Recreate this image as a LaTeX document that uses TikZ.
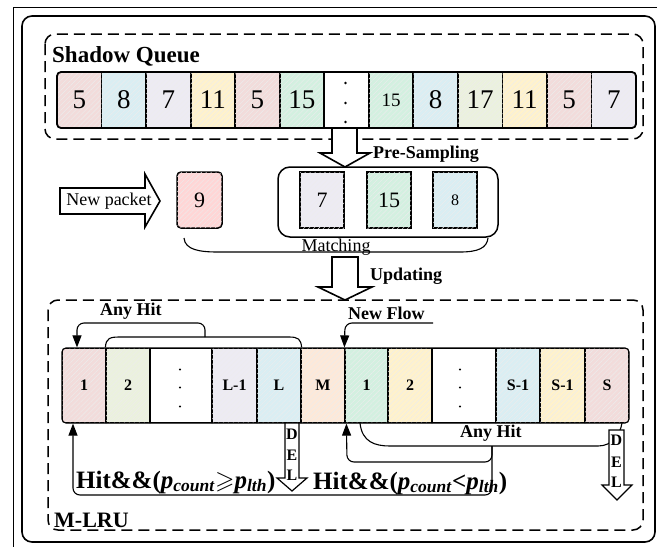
\documentclass[tikz,border=0pt]{standalone}
\usepackage{fontspec}
\setmainfont{Liberation Serif}
\usepackage{amssymb}
\usetikzlibrary{calc,arrows.meta,patterns.meta}

\definecolor{cpink}{HTML}{F2DCDB}
\definecolor{cblue}{HTML}{DAEEF3}
\definecolor{clav}{HTML}{EDEBF3}
\definecolor{cyel}{HTML}{FFF2CC}
\definecolor{cgreen}{HTML}{D3F0E0}
\definecolor{colive}{HTML}{EBF1DE}
\definecolor{cpeach}{HTML}{FDE9D9}
\definecolor{cred}{HTML}{FFD6D6}

\begin{document}
\begin{tikzpicture}[x=1pt,y=-1pt,
  hatch/.style={postaction={pattern={Lines[angle=45,distance=3.5pt,line width=0.4pt]},
    pattern color=black!7}},
  qcell/.style={draw, line width=1.8pt, minimum width=44.54pt, minimum height=56pt,
    inner sep=0pt, font=\fontsize{27}{27}\selectfont},
  qsmall/.style={font=\fontsize{19}{19}\selectfont},
  scell/.style={draw, line width=1.5pt, minimum width=44pt, minimum height=56pt,
    inner sep=0pt, font=\fontsize{22}{22}\selectfont, hatch},
  mcell/.style={draw, line width=1.2pt, minimum height=75pt, inner sep=0pt,
    font=\fontsize{16}{16}\selectfont\bfseries},
  dbox/.style={dash pattern=on 11pt off 6pt, line width=1.5pt, rounded corners=10pt},
  barrow/.style={draw, fill=white, line width=1.6pt, line join=miter},
  arr/.style={line width=1.1pt, rounded corners=7pt, -{Triangle[length=12pt,width=9pt]}},
  brace/.style={line width=1.1pt},
  lbl/.style={font=\fontsize{18}{18}\selectfont\bfseries, inner sep=0pt, anchor=base west},
  txt/.style={font=\fontsize{18}{18}\selectfont, inner sep=0pt},
  hit/.style={font=\fontsize{25}{25}\selectfont\bfseries, inner sep=0pt, anchor=base west},
  del/.style={font=\fontsize{16}{16}\selectfont\bfseries, inner sep=0pt}
]
\useasboundingbox (0,0) rectangle (657,547);

% frames
\draw[line width=0.6pt] (13,547) -- (13,7) -- (657,7);
\draw[line width=1.6pt, rounded corners=10pt] (22,16) rectangle (655,542);

% ---------------- shadow queue ----------------
\draw[dbox] (45,34) rectangle (643,139);
\node[lbl, font=\fontsize{23}{23}\selectfont\bfseries] (sqtitle) at (52,62) {Shadow Queue};

\begin{scope}
  \clip[rounded corners=4pt] (57,72) rectangle (636,128);
  \foreach \t/\c/\h [count=\i] in {5/cpink/hatch,8/cblue/hatch,7/clav/hatch,11/cyel/hatch,
                                 5/cpink/hatch,15/cgreen/hatch,{}/white/draw,
                                 {}/cgreen/hatch,8/cblue/hatch,17/colive/hatch,11/cyel/hatch,
                                 5/cpink/hatch,7/clav/hatch}
    \node[qcell, fill=\c, \h] (q\i) at ({79.27+44.54*(\i-1)},100) {\t};
\end{scope}
\node[qsmall] at (q8) {15};
\draw[line width=1.8pt, rounded corners=4pt] (57,72) rectangle (636,128);
\foreach \d in {-17,3,22} \fill ($(q7.center)+(-1,\d)$) circle (1.3pt);

% pre-sampling arrow
\draw[barrow] (332,128) -- (332,153) -- (320,153) -- (345,167) -- (370,153)
  -- (357,153) -- (357,128) -- cycle;
\node[lbl] (presamp) at (373,158) {Pre-Sampling};

% ---------------- sampling / matching ----------------
\draw[barrow] (60,188) -- (145,188) -- (145,174) -- (160,201) -- (145,227)
  -- (145,214) -- (60,214) -- cycle;
\node[txt] (newpkt) at (109,201) {New packet};

\node[scell, fill=cred, rounded corners=4pt, minimum width=45pt] (p9) at (199.5,200) {9};
\node[draw, line width=1.5pt, rounded corners=12pt, minimum width=220pt,
      minimum height=70pt] (grp) at (388,202) {};
\node[scell, fill=clav] (s7) at (322,200) {7};
\node[scell, fill=cgreen] (s15) at (389,200) {15};
\node[scell, fill=cblue, font=\fontsize{16}{16}\selectfont] (s8) at (455,200) {8};

\draw[brace] (184,238) .. controls (185,250) and (200,252) .. (218,252) -- (460,252)
  .. controls (478,252) and (487,248) .. (488,238);
\node[txt, anchor=base] (match) at (336,251) {Matching};

% updating arrow
\draw[barrow] (332,257) -- (332,287) -- (318,287) -- (345,300) -- (372,287)
  -- (358,287) -- (358,257) -- cycle;
\node[lbl] (upd) at (370,280) {Updating};

% ---------------- M-LRU ----------------
\draw[dbox] (48,300) rectangle (643,530);
\node[lbl, font=\fontsize{22}{22}\selectfont\bfseries] (mlru) at (54,527) {M-LRU};

\begin{scope}
  \clip[rounded corners=4pt] (62,348) rectangle (629,423);
  \foreach \n/\x/\w/\c/\t/\h in {1/84/44/cpink/1/hatch, 2/128/44/colive/2/hatch,
      3/181/62/white/{}/draw, 4/234.5/45/clav/L-1/hatch, 5/279/44/cblue/L/hatch,
      6/323/44/cpeach/M/hatch, 7/366.5/43/cgreen/1/hatch, 8/410/44/cyel/2/hatch,
      9/464/64/white/{}/draw, 10/518/44/cblue/S-1/hatch, 11/562.5/45/cyel/S-1/hatch,
      12/607/44/cpink/S/hatch}
    \node[mcell, fill=\c, \h, minimum width=\w pt] (m\n) at (\x,385.5) {\t};
\end{scope}
\draw[line width=1.2pt, rounded corners=4pt] (62,348) rectangle (629,423);
\foreach \d in {-16,2,21} {
  \fill ($(m3.center)+(-1,\d)$) circle (1.2pt);
  \fill ($(m9.center)+(-4,\d)$) circle (1.2pt);
}

% upper "Any Hit" loop
\draw[brace] (m2.north west) .. controls (106,338) and (110,337) .. (120,337) -- (289,337)
  .. controls (298,337) and (301,339) .. (m5.north east);
\coordinate (tb) at (205,337);
\draw[arr] (tb) -- (205,323) -- (77,323) -- ([xshift=-7pt]m1.north);
\node[lbl] (anyhit1) at (100,315) {Any Hit};

% new flow
\coordinate (nf) at (433,323);
\draw[arr] (nf) -- (345,323) -- (m7.north west);
\node[lbl] (newflow) at (348,319) {New Flow};

% DEL arrows
\draw[barrow, line width=1.2pt] (285,423) -- (285,478) -- (277,478) -- (292,491)
  -- (307,478) -- (299,478) -- (299,423) -- cycle;
\node[del] at (292,434) {D};
\node[del] at (292,455) {E};
\node[del] at (292,475) {L};

% lower "Any Hit" loop
\draw[brace] (360,423) .. controls (362,442) and (375,446) .. (390,446) -- (598,446)
  .. controls (612,446) and (620,435) .. (622,423);
\node[lbl] (anyhit2) at (460,437) {Any Hit};

\draw[barrow, line width=1.2pt] (609,430) -- (609,485) -- (602,485) -- (617,500)
  -- (632,485) -- (624,485) -- (624,430) -- cycle;
\node[del] at (616.5,440) {D};
\node[del] at (616.5,462) {E};
\node[del] at (616.5,482) {L};

\coordinate (bb) at (492,446);
\draw[arr] (bb) -- (492,462) -- (347,462) -- ([xshift=2pt]m7.south west);
\draw[arr] (bb) -- (492,495) -- (73,495) -- ([xshift=-11pt]m1.south);

\node[hit] (geq) at (76,488)
  {Hit\&\&(\textit{p}\textsubscript{\textit{count}}$\geqslant$\textit{p}\textsubscript{\textit{lth}})};
\node[hit] (lt) at (313,489)
  {Hit\&\&(\textit{p}\textsubscript{\textit{count}}<\textit{p}\textsubscript{\textit{lth}})};
\end{tikzpicture}
\end{document}
